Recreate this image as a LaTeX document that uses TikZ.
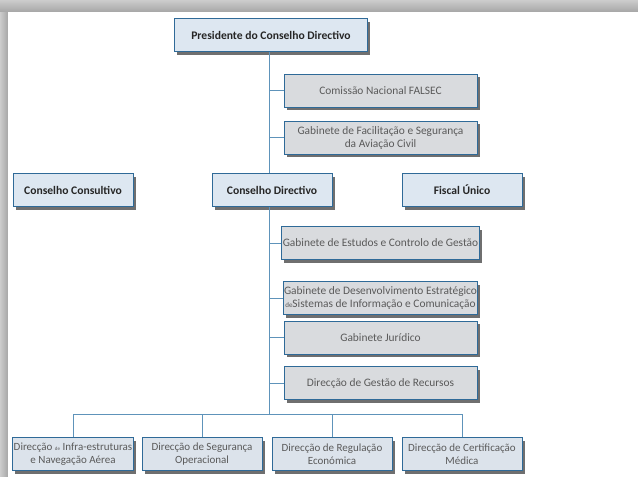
\documentclass[tikz,border=0pt]{standalone}
\usepackage{fontspec}
\setmainfont{Carlito}
\usetikzlibrary{shadows}
\definecolor{boxline}{HTML}{2F6A98}
\definecolor{linkline}{HTML}{5E93BA}
\definecolor{bluefill}{HTML}{DDE7F1}
\definecolor{greyfill}{HTML}{D9DBDE}
\definecolor{greytext}{HTML}{5A5A5A}

\begin{document}
\begin{tikzpicture}[
      x=1pt, y=-1pt,
      box/.style={draw=boxline, line width=1pt, minimum height=33pt, align=center, inner sep=1pt,
                  drop shadow={shadow xshift=2.5pt, shadow yshift=-3pt, opacity=0.75, fill=black!75}},
      head/.style={box, fill=bluefill, minimum width=120pt, font=\bfseries\fontsize{11.6}{13}\selectfont, text=black!85},
      staff/.style={box, fill=greyfill, minimum width=193pt, font=\fontsize{11.4}{13}\selectfont, text=greytext},
      unit/.style={box, fill=bluefill!70!greyfill, minimum width=120pt, font=\fontsize{11}{12.5}\selectfont, text=greytext},
      link/.style={draw=linkline, line width=1pt}
    ]

    % frame
    \shade[top color=gray!40, bottom color=gray!70] (0,0) rectangle (638,12);
    \shade[left color=gray!40, right color=gray!70] (0,12) rectangle (8,477);
    \fill[white] (8,12) rectangle (638,477);
    \useasboundingbox (0,0) rectangle (638,477);

    \node[head, minimum width=193pt] (pres) at (271, 35) {Presidente do Conselho Directivo};

    \node[staff] (falsec) at (380.5, 90.5) {Comissão Nacional FALSEC};
    \node[staff] (facil) at (380.5, 137.5) {Gabinete de Facilitação e Segurança\\da Aviação Civil};

    \node[head] (consultivo) at (73, 190) {Conselho Consultivo};
    \node[head] (directivo) at (272, 190) {Conselho Directivo};
    \node[head] (fiscal) at (462, 190) {Fiscal Único};

    \node[staff] (estudos) at (380.5, 243) {Gabinete de Estudos e Controlo de Gestão};
    \node[staff] (desenv) at (380.5, 298) {Gabinete de Desenvolvimento Estratégico\\{\scriptsize de}Sistemas de Informação e Comunicação};
    \node[staff] (juridico) at (380.5, 337.5) {Gabinete Jurídico};
    \node[staff] (recursos) at (380.5, 383) {Direcção de Gestão de Recursos};

    \node[unit] (infra) at (73, 454) {Direcção {\tiny de} Infra-estruturas\\e Navegação Aérea};
    \node[unit] (seguranca) at (202, 454) {Direcção de Segurança\\Operacional};
    \node[unit] (regulacao) at (332, 454) {Direcção de Regulação\\Económica};
    \node[unit] (certif) at (462, 454) {Direcção de Certificação\\Médica};

    \coordinate (bus) at (269, 414);

    \draw[link] ([xshift=-2pt]pres.south) -- ([xshift=-3pt]directivo.north);
    \draw[link] ([xshift=-3pt]directivo.south) -- (bus);
    \foreach \n in {falsec, facil, estudos, desenv, juridico, recursos}
      \draw[link] (\n.west) -- (\n.west -| bus);
    \draw[link] (infra.north |- bus) -- (certif.north |- bus);
    \foreach \n in {infra, seguranca, regulacao, certif}
      \draw[link] (\n.north) -- (\n.north |- bus);

  \end{tikzpicture}
\end{document}
